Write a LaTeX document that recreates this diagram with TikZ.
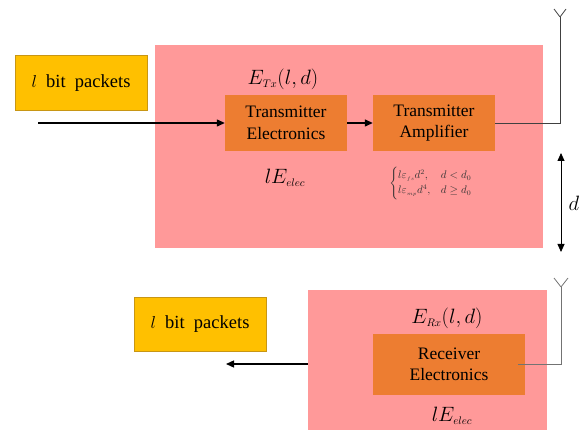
\documentclass[tikz,border=0pt]{standalone}
\usepackage{amsmath}
\usepackage{fontspec}
\setmainfont{Liberation Serif}
\newfontfamily\timesfont{Liberation Serif}
\usetikzlibrary{positioning,calc,arrows.meta}
\definecolor{bgPink}{RGB}{255,153,153}
\definecolor{elOrange}{RGB}{237,125,49}
\definecolor{pkYellow}{RGB}{255,192,0}
\definecolor{pkEdge}{RGB}{200,150,20}

\begin{document}
\begin{tikzpicture}[x=1pt,y=-1pt,
   bg/.style={fill=bgPink,inner sep=0pt},
   el/.style={fill=elOrange,inner sep=0pt,align=center,font=\timesfont\fontsize{17.5}{21.5}\selectfont},
   pk/.style={fill=pkYellow,draw=pkEdge,line width=1pt,inner sep=0pt,font=\timesfont\fontsize{18.5}{21}\selectfont},
   sig/.style={line width=1.3pt,-{Triangle[length=8pt,width=7pt]}},
   wire/.style={line width=0.8pt},
   lbl/.style={inner sep=0pt,font=\fontsize{21.5}{24}\selectfont}]
\useasboundingbox (0,0) rectangle (586,430);
%% ---- transmitter side ----
\node[bg,minimum width=388pt,minimum height=203pt] (txbg) at (349,146.5) {};
\node[pk,minimum width=132pt,minimum height=55pt] (pkin) at (81,83.5) {$l$\ \ bit\ \ packets};
\node[el,minimum width=122pt,minimum height=56pt] (txe) at (286,123) {Transmitter\\Electronics};
\node[el,minimum width=122pt,minimum height=56pt] (amp) at (434,123) {Transmitter\\Amplifier};
\node[lbl] (etx) at (283,79) {$E_{\scriptscriptstyle Tx}(l,d)$};
\node[lbl] (etxel) at (285,178) {$lE_{\scriptscriptstyle elec}$};
\node[inner sep=0pt,font=\fontsize{10.5}{12.5}\selectfont,text=black!80] (ampf) at (431,183)
   {$\begin{cases} l\varepsilon_{\scriptscriptstyle fs}d^2, & d<d_0\\ l\varepsilon_{\scriptscriptstyle mp}d^4, & d\ge d_0\end{cases}$};
\coordinate (in) at (38,123);
\coordinate (ant1) at (560,17);
\draw[sig] (in) -- (txe.west);
\draw[sig] (txe) -- (amp);
\draw[wire,black!75] (amp.east) -- (amp.east -| ant1) -- (ant1);
\draw[wire,black!75] (ant1) -- ++(-6,-8) (ant1) -- ++(6,-8);
%% ---- distance ----
\coordinate (d1) at (561,153);
\coordinate (d2) at (561,252);
\draw[line width=0.8pt,{Triangle[length=8pt,width=7pt]}-{Triangle[length=8pt,width=7pt]}] (d1) -- (d2);
\node[lbl] (dist) at (574,203) {$d$};
%% ---- receiver side ----
\node[bg,minimum width=239pt,minimum height=140pt] (rxbg) at (427.5,360) {};
\node[pk,minimum width=132pt,minimum height=54pt] (pkout) at (200,324) {$l$\ \ bit\ \ packets};
\node[el,minimum width=152pt,minimum height=61pt] (rxe) at (449,364.5) {Receiver\\Electronics};
\node[lbl] (erx) at (447,318) {$E_{\scriptscriptstyle Rx}(l,d)$};
\node[lbl] (erxel) at (452,416) {$lE_{\scriptscriptstyle elec}$};
\coordinate (out) at (226,364);
\coordinate (ant2) at (561,287);
\draw[sig] (out -| rxbg.west) -- (out);
\draw[wire,black!55] ([xshift=-7pt]rxe.east) -- (rxe.east -| ant2) -- (ant2);
\draw[wire,black!55] (ant2) -- ++(-7,-9) (ant2) -- ++(7,-9);
\end{tikzpicture}
\end{document}
